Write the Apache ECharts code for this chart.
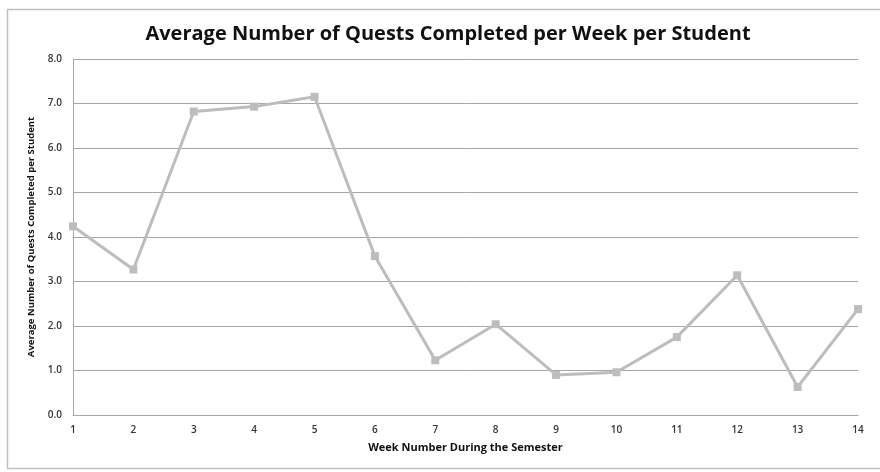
<!DOCTYPE html>
<html>
<head>
<meta charset="utf-8">
<script src="https://cdn.jsdelivr.net/npm/echarts@6/dist/echarts.min.js"></script>
<style>
html, body { margin: 0; padding: 0; background: #fff; }
#main { width: 880px; height: 472px; }
</style>
</head>
<body>
<div id="main"></div>
<script>
var weeks = ['1','2','3','4','5','6','7','8','9','10','11','12','13','14'];
var avgQuests = [4.24, 3.27, 6.82, 6.93, 7.15, 3.57, 1.23, 2.04, 0.90, 0.96, 1.75, 3.14, 0.63, 2.38];
var yTicks = [0, 1, 2, 3, 4, 5, 6, 7, 8];

var chart = echarts.init(document.getElementById('main'));

var option = {
    backgroundColor: '#fff',
    animation: false,
    graphic: [{
        type: 'rect',
        shape: { x: 7.5, y: 9.5, width: 880, height: 459 },
        style: { fill: 'none', stroke: '#c0c0c0', lineWidth: 1.5 },
        silent: true
    }],
    title: {
        text: 'Average Number of Quests Completed per Week per Student',
        left: 443,
        top: 19,
        textAlign: 'center',
        textStyle: {
            fontFamily: 'Open Sans',
            fontSize: 20,
            fontWeight: 'bold',
            color: '#111'
        }
    },
    grid: {
        left: 73,
        right: 22,
        top: 59,
        bottom: 57,
        containLabel: false
    },
    xAxis: {
        type: 'category',
        data: weeks,
        boundaryGap: false,
        name: 'Week Number During the Semester',
        nameLocation: 'middle',
        nameGap: 27,
        nameTextStyle: {
            fontFamily: 'Open Sans',
            fontSize: 11,
            fontWeight: 'bold',
            color: '#111'
        },
        axisLine: { lineStyle: { color: '#a6a6a6', width: 1 } },
        axisTick: { show: false },
        axisLabel: {
            fontFamily: 'Open Sans',
            fontSize: 10,
            fontWeight: 600,
            color: '#333',
            margin: 10
        },
        splitLine: { show: false }
    },
    yAxis: {
        type: 'value',
        min: yTicks[0],
        max: yTicks[yTicks.length - 1],
        interval: 1,
        name: 'Average Number of Quests Completed per Student',
        nameLocation: 'middle',
        nameGap: 37,
        nameTextStyle: {
            fontFamily: 'Open Sans',
            fontSize: 9.5,
            fontWeight: 'bold',
            color: '#111'
        },
        axisLine: { show: true, lineStyle: { color: '#a6a6a6', width: 1 } },
        axisTick: { show: false },
        axisLabel: {
            fontFamily: 'Open Sans',
            fontSize: 10,
            fontWeight: 600,
            color: '#333',
            margin: 11,
            formatter: function (v) { return v.toFixed(1); }
        },
        splitLine: { lineStyle: { color: '#a6a6a6', width: 1 } }
    },
    series: [{
        name: 'Average Quests',
        type: 'line',
        data: avgQuests,
        symbol: 'rect',
        symbolSize: 8,
        lineStyle: { color: '#bdbdbd', width: 3 },
        itemStyle: { color: '#bdbdbd' }
    }]
};

chart.setOption(option);
</script>
</body>
</html>
